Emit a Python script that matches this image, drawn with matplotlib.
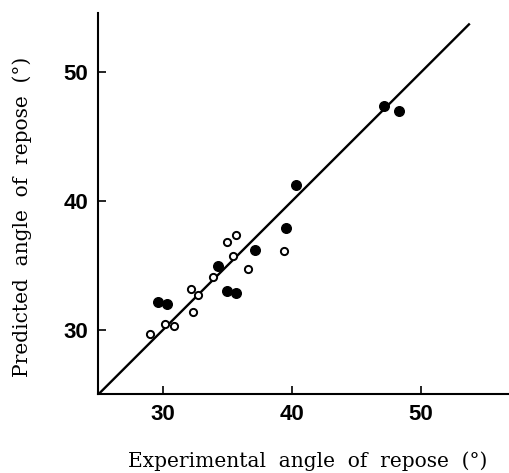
import matplotlib
matplotlib.use("Agg")
import matplotlib.pyplot as plt
import numpy as np

# filled circles
solid_x = [29.6, 30.3, 34.25, 35.0, 35.7, 37.1, 39.5, 40.3, 47.1, 48.3]
solid_y = [32.2, 32.0, 35.0, 33.0, 32.9, 36.2, 37.9, 41.25, 47.4, 47.0]

# open circles
open_x = [29.0, 30.2, 30.9, 32.2, 32.3, 32.7, 33.9, 34.95, 35.65, 35.4, 36.6, 39.4]
open_y = [29.7, 30.5, 30.3, 33.15, 31.4, 32.7, 34.1, 36.8, 37.4, 35.7, 34.7, 36.1]

line_x = [25, 53.7]

ticks = [30, 40, 50]

tickfont = {'family': ['Liberation Sans', 'DejaVu Sans'], 'weight': 'bold', 'size': 16}
labelfont = {'family': ['DejaVu Serif'], 'size': 14.5}

fig = plt.figure(figsize=(5.09, 4.73), dpi=100)
ax = fig.add_axes([0.193, 0.166, 0.807, 0.807])

ax.plot(line_x, line_x, color='black', lw=1.7, zorder=1)
ax.scatter(open_x, open_y, s=27, facecolors='white', edgecolors='black', linewidths=1.4, zorder=2)
ax.scatter(solid_x, solid_y, s=48, color='black', zorder=3)

ax.set_xlim(25, 56.8)
ax.set_ylim(25, 54.6)
ax.spines['top'].set_visible(False)
ax.spines['right'].set_visible(False)
ax.spines['left'].set_linewidth(1.5)
ax.spines['bottom'].set_linewidth(1.5)

ax.set_xticks(ticks)
ax.set_yticks(ticks)
ax.set_xticklabels([str(t) for t in ticks], fontdict=tickfont)
ax.set_yticklabels([str(t) for t in ticks], fontdict=tickfont)
ax.tick_params(direction='in', length=6, width=1.2, pad=7)

ax.set_xlabel('Experimental  angle  of  repose  (°)', fontdict=labelfont)
ax.set_ylabel('Predicted  angle  of  repose  (°)', fontdict=labelfont)
ax.xaxis.set_label_coords(0.509, -0.148)
ax.yaxis.set_label_coords(-0.162, 0.465)

fig.savefig('out.png', dpi=100)
